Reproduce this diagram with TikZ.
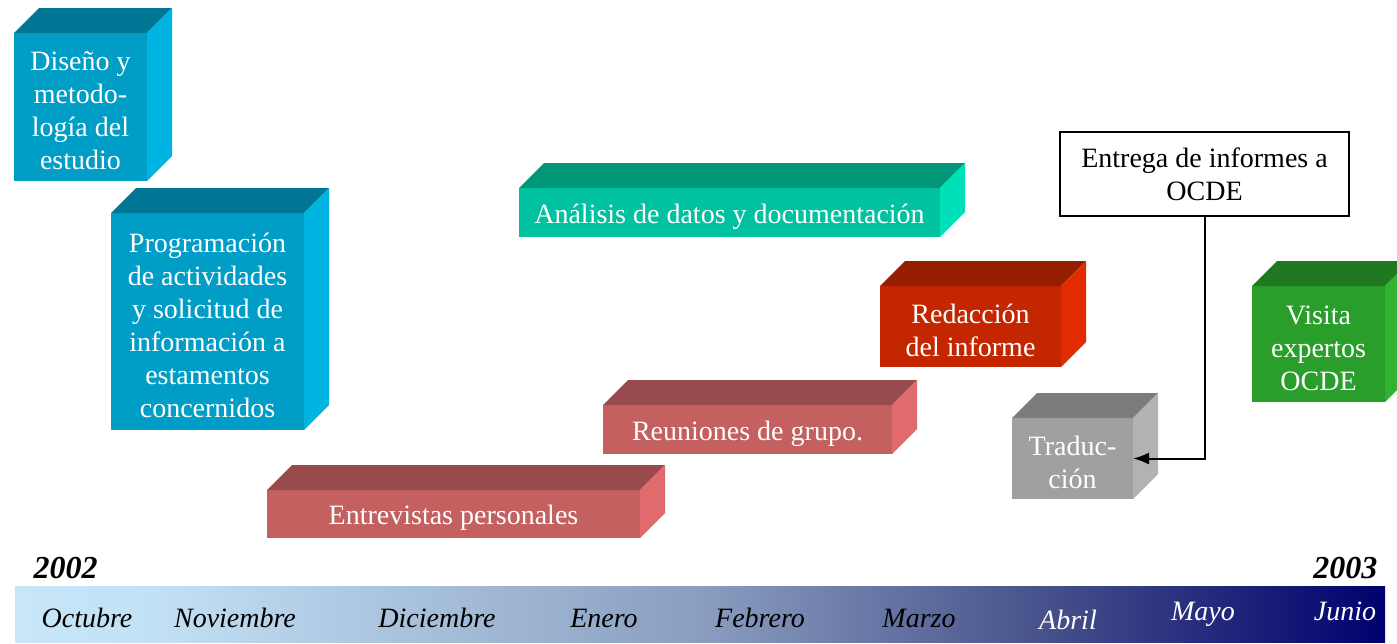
\documentclass[tikz,border=0pt]{standalone}
\usepackage{fontspec}
\setmainfont{Liberation Serif}
\usetikzlibrary{arrows.meta,calc}
\definecolor{blueF}{RGB}{0,157,198}
\definecolor{blueT}{RGB}{0,118,148}
\definecolor{blueS}{RGB}{0,180,225}
\definecolor{tealF}{RGB}{0,194,160}
\definecolor{tealT}{RGB}{0,150,120}
\definecolor{tealS}{RGB}{0,224,184}
\definecolor{redF}{RGB}{196,38,0}
\definecolor{redT}{RGB}{150,30,0}
\definecolor{redS}{RGB}{226,44,0}
\definecolor{grnF}{RGB}{42,158,42}
\definecolor{grnT}{RGB}{32,120,32}
\definecolor{grnS}{RGB}{50,178,50}
\definecolor{gryF}{RGB}{160,160,160}
\definecolor{gryT}{RGB}{124,124,124}
\definecolor{gryS}{RGB}{178,178,178}
\definecolor{roseF}{RGB}{196,96,96}
\definecolor{roseT}{RGB}{152,74,76}
\definecolor{roseS}{RGB}{224,106,108}
\definecolor{tbA}{RGB}{200,230,248}
\definecolor{tbB}{RGB}{195,225,245}
\definecolor{tbC}{RGB}{138,158,192}
\definecolor{tbD}{RGB}{66,76,136}
\definecolor{tbE}{RGB}{0,0,110}
\pgfdeclarehorizontalshading{timebar}{100bp}{color(0bp)=(tbA); color(25bp)=(tbA); color(30bp)=(tbB); color(50bp)=(tbC); color(63.4bp)=(tbD); color(75bp)=(tbE); color(100bp)=(tbE)}
\newcommand{\cubebox}[6]{%
  \node[cubefront, fill=#5F, minimum width=#3pt, minimum height=#4pt] (#1) at #2 {};
  \fill[#5T] (#1.north west) -- ++(25,-25) -- ([shift={(25,-25)}]#1.north east) -- (#1.north east) -- cycle;
  \fill[#5S] (#1.north east) -- ++(25,-25) -- ([shift={(25,-25)}]#1.south east) -- (#1.south east) -- cycle;
  \node[cubetext] (#1-t) at ([yshift=-4pt]#1.center) {#6};
}
\tikzset{
  cubefront/.style={inner sep=0pt, outer sep=0pt, anchor=north west},
  cubetext/.style={inner sep=0pt, text=white, align=center, font=\fontsize{28}{33}\selectfont},
  month/.style={anchor=base, font=\fontsize{28}{33}\selectfont\itshape},
  year/.style={anchor=base, font=\fontsize{32}{36}\selectfont\bfseries\itshape},
  callout/.style={draw=black, line width=1.5pt, fill=white, inner sep=0pt, outer sep=0pt, anchor=north west, align=center, font=\fontsize{28}{33}\selectfont},
  link/.style={draw=black, line width=2pt, -{Latex[length=16pt,width=12pt]}}
}
\begin{document}
\begin{tikzpicture}[x=1pt,y=-1pt]
\clip (0,0) rectangle (1397,643);
\fill[white] (0,0) rectangle (1397,643);
% timeline bar
\node[inner sep=0pt, outer sep=0pt, anchor=north west, minimum width=1370pt, minimum height=56pt, shading=timebar] (bar) at (15,586) {};
\node[year, anchor=base west] (y2002) at (30,578) {2002};
\node[year, anchor=base east] (y2003) at (1381,578) {2003};
\node[month] (m1) at (87,627) {Octubre};
\node[month] (m2) at (235,627) {Noviembre};
\node[month] (m3) at (437,627) {Diciembre};
\node[month] (m4) at (604,627) {Enero};
\node[month] (m5) at (760,627) {Febrero};
\node[month] (m6) at (919,627) {Marzo};
\node[month, text=white] (m7) at (1068,629) {Abril};
\node[month, text=white] (m8) at (1203,620) {Mayo};
\node[month, text=white] (m9) at (1345,620) {Junio};
% activity boxes
\cubebox{dis}{(14,33)}{133}{148}{blue}{Diseño y\\metodo-\\logía del\\estudio}
\cubebox{prog}{(111,213)}{193}{217}{blue}{Programación\\de actividades\\y solicitud de\\información a\\estamentos\\concernidos}
\cubebox{ana}{(519,188)}{421}{49}{teal}{Análisis de datos y documentación}
\cubebox{red}{(880,286)}{181}{81}{red}{Redacción\\del informe}
\cubebox{vis}{(1252,286)}{133}{116}{grn}{Visita\\expertos\\OCDE}
\cubebox{reu}{(603,405)}{289}{49}{rose}{Reuniones de grupo.}
\cubebox{ent}{(267,490)}{373}{48}{rose}{Entrevistas personales}
\cubebox{trad}{(1012,418)}{121}{81}{gry}{Traduc-\\ción}
% callout
\node[callout, minimum width=289pt, minimum height=84pt] (entrega) at (1060,132) {Entrega de informes a\\OCDE};
\draw[link] (entrega.south) |- (trad.east);
\end{tikzpicture}
\end{document}
